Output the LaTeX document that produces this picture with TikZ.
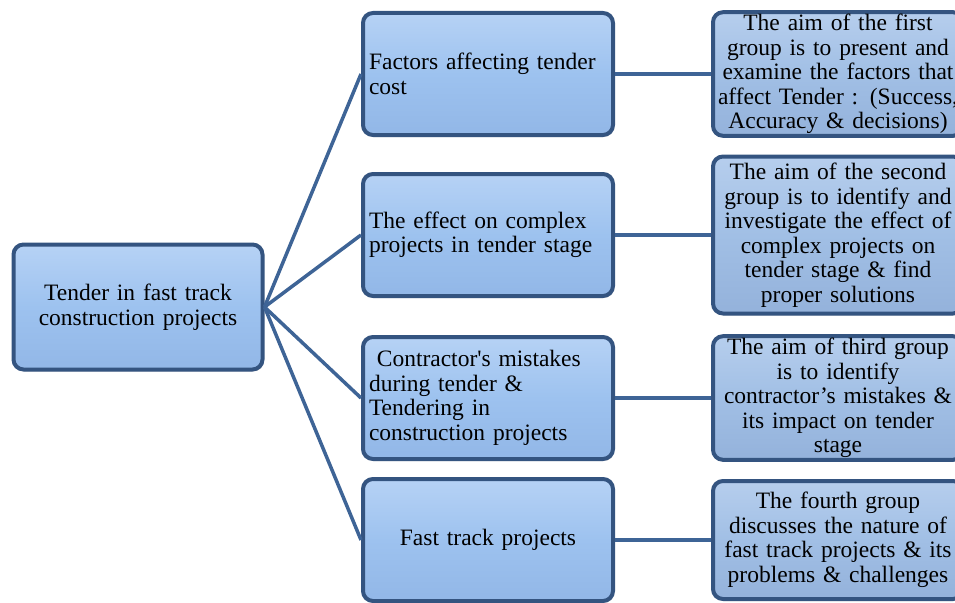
\documentclass[tikz,border=0pt]{standalone}
\usepackage{fontspec}
\setmainfont{Liberation Serif}
\usepackage{tikz}
\usetikzlibrary{positioning, shadows}
\definecolor{boxline}{RGB}{52, 84, 128}
\definecolor{boxtop}{RGB}{182, 210, 245}
\definecolor{boxmid}{RGB}{157, 194, 239}
\definecolor{boxbot}{RGB}{146, 183, 231}
\definecolor{aimtop}{RGB}{182, 206, 237}
\definecolor{aimmid}{RGB}{161, 191, 229}
\definecolor{aimbot}{RGB}{148, 178, 219}
\definecolor{link}{RGB}{62, 100, 150}

\begin{document}
\begin{tikzpicture}[
    x=1pt, y=-1pt,
    box/.style={rectangle, draw=boxline, line width=4pt, rounded corners=10pt,
        top color=boxtop, bottom color=boxbot, middle color=boxmid,
        drop shadow={opacity=0.25, shadow xshift=1pt, shadow yshift=-2pt},
        inner xsep=5pt, inner ysep=2pt, font=\fontsize{23.5}{24.5}\selectfont},
    midbox/.style={box, minimum width=250pt, minimum height=122pt, text width=238pt},
    aimbox/.style={box, top color=aimtop, bottom color=aimbot, middle color=aimmid,
        minimum width=246pt, text width=240pt, align=center},
    link/.style={draw=link, line width=3.5pt}
]
    \useasboundingbox (0,0) rectangle (955,602);

    \node[box, minimum width=249pt, minimum height=125pt, text width=238pt, align=center]
        (root) at (138,307) {Tender in fast track\\construction projects};

    \node[midbox, align=left] (cost) at (488,74) {Factors affecting tender\\cost};
    \node[midbox, align=left, below=35pt of cost] (complex) {The effect on complex\\projects in tender stage};
    \node[midbox, align=left, below=37pt of complex] (mistakes) {\ Contractor\textquotesingle s mistakes\\during tender \&\\Tendering in\\construction projects};
    \node[midbox, align=center, below=16pt of mistakes] (fast) {Fast track projects};

    \node[aimbox, minimum height=122pt, right=96pt of cost] (aim1)
        {The aim of the first\\group is to present and\\examine the factors that\\affect Tender : (Success,\\Accuracy \& decisions)};
    \node[aimbox, minimum height=157pt, right=96pt of complex] (aim2)
        {The aim of the second\\group is to identify and\\investigate the effect of\\complex projects on\\tender stage \& find\\proper solutions};
    \node[aimbox, minimum height=123pt, right=96pt of mistakes] (aim3)
        {The aim of third group\\is to identify\\contractor’s mistakes \&\\its impact on tender\\stage};
    \node[aimbox, minimum height=118pt, right=96pt of fast] (aim4)
        {The fourth group\\discusses the nature of\\fast track projects \& its\\problems \& challenges};

    \draw[link] (root.east) -- (cost.west);
    \draw[link] (root.east) -- (complex.west);
    \draw[link] (root.east) -- (mistakes.west);
    \draw[link] (root.east) -- (fast.west);
    \draw[link] (cost) -- (aim1);
    \draw[link] (complex) -- (aim2);
    \draw[link] (mistakes) -- (aim3);
    \draw[link] (fast) -- (aim4);
\end{tikzpicture}
\end{document}
